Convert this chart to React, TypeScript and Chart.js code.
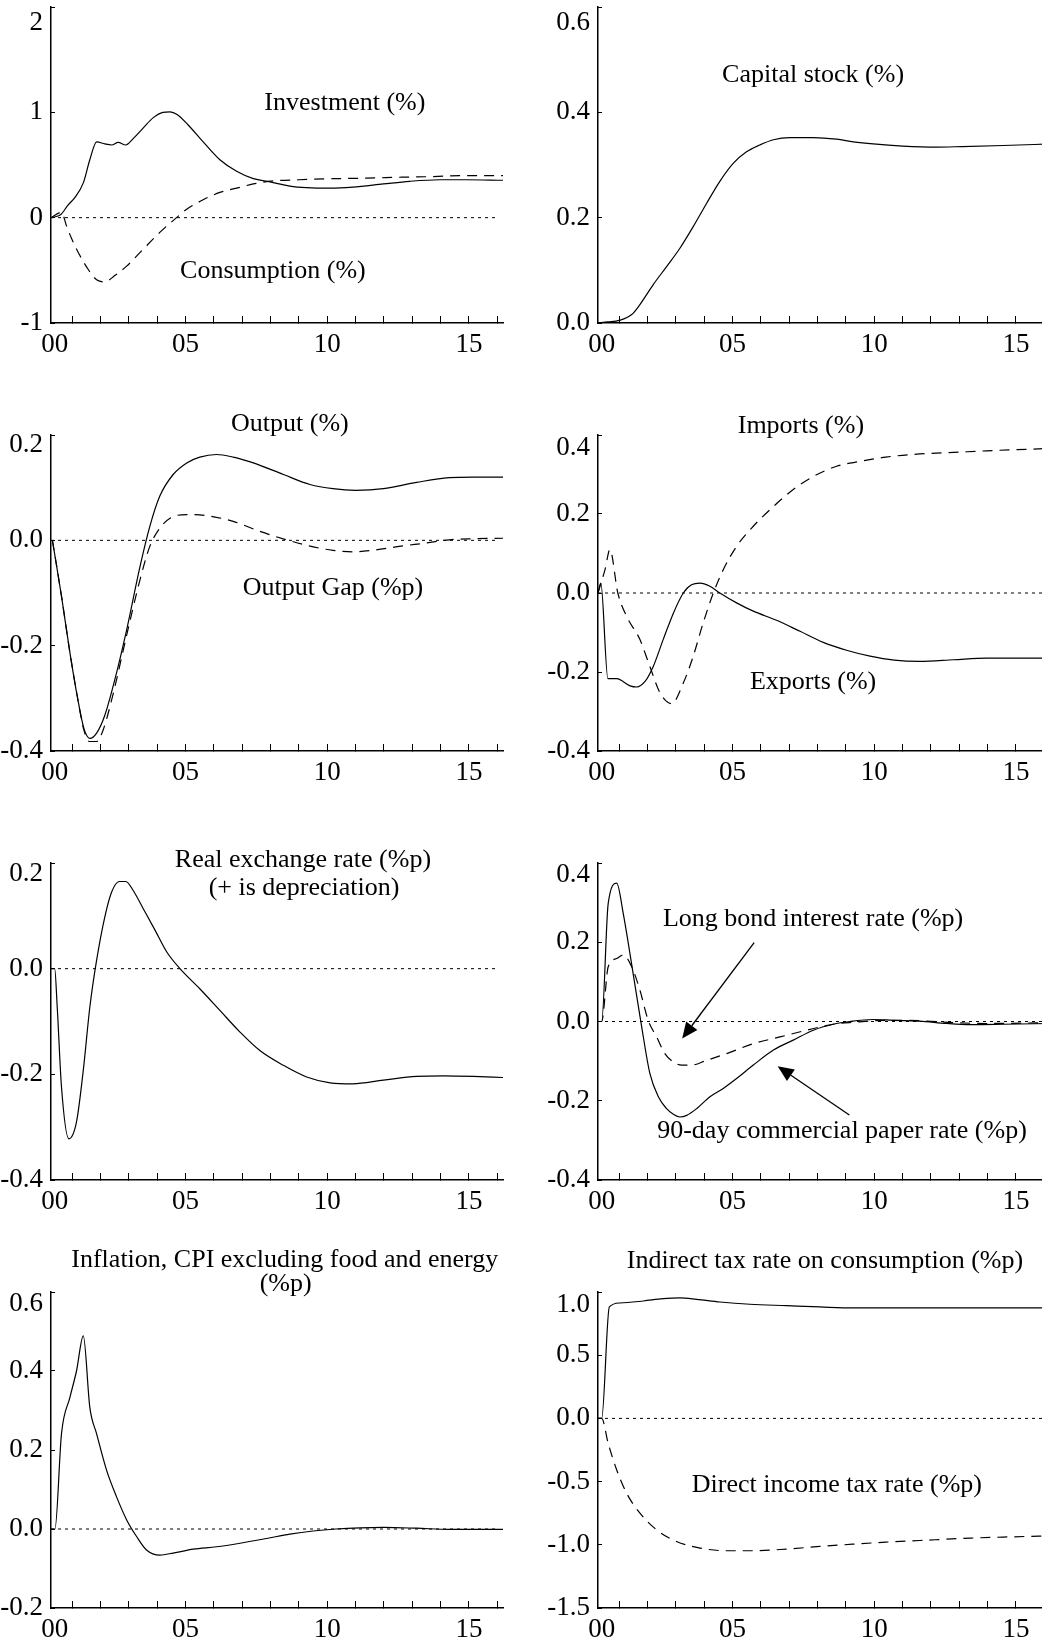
import React, { useEffect, useRef } from "react";
import { Chart, registerables } from "chart.js";

Chart.register(...registerables);

const FONT = "'Liberation Serif', 'Times New Roman', serif";
Chart.defaults.font.family = FONT;
Chart.defaults.color = "#000";

// ---------- x axis (years since 2000) ----------
const xTickYears = [0.38, 1, 2, 3, 4, 5, 6, 7, 8, 9, 10, 11, 12, 13, 14, 15, 16];
const xTickLabels = ["00", "", "", "", "", "05", "", "", "", "", "10", "", "", "", "", "15", ""];

// ---------- series: [year, value] ----------
const investment = [[0.25,0],[0.6,0.03],[0.85,0.12],[1.09,0.19],[1.39,0.33],[1.62,0.55],[1.86,0.72],[2.15,0.7],[2.39,0.69],[2.62,0.715],[2.89,0.69],[3.15,0.75],[3.5,0.85],[3.86,0.95],[4.2,1.0],[4.45,1.005],[4.7,0.98],[5.09,0.88],[5.62,0.72],[6.21,0.55],[6.8,0.44],[7.39,0.37],[7.98,0.34],[8.68,0.3],[9.27,0.285],[10.1,0.28],[10.9,0.29],[11.98,0.32],[12.9,0.345],[13.98,0.36],[14.9,0.36],[16.2,0.355]];
const consumption = [[0.25,0],[0.62,0.05],[0.8,-0.08],[0.98,-0.2],[1.27,-0.36],[1.56,-0.49],[1.86,-0.59],[2.15,-0.61],[2.5,-0.55],[2.92,-0.46],[3.5,-0.3],[4.09,-0.14],[4.68,0.0],[5.04,0.08],[5.62,0.17],[6.21,0.24],[6.8,0.28],[7.39,0.32],[7.98,0.346],[9.0,0.36],[10.2,0.37],[11.4,0.375],[12.6,0.384],[13.7,0.39],[14.9,0.4],[16.2,0.4]];
const capitalStock = [[0.25,0],[0.6,0.002],[1.0,0.005],[1.44,0.016],[1.73,0.035],[2.2,0.073],[2.67,0.107],[3.14,0.142],[3.61,0.183],[4.08,0.227],[4.55,0.269],[5.02,0.303],[5.49,0.325],[5.96,0.338],[6.44,0.348],[7.02,0.352],[7.85,0.352],[8.67,0.349],[9.26,0.344],[9.96,0.34],[11.0,0.336],[12.2,0.334],[13.1,0.335],[14.55,0.337],[16.2,0.34]];
const output = [[0.3,0],[0.62,-0.106],[0.92,-0.214],[1.18,-0.297],[1.41,-0.357],[1.62,-0.376],[1.86,-0.366],[2.15,-0.332],[2.5,-0.265],[2.92,-0.17],[3.39,-0.05],[3.74,0.027],[4.09,0.084],[4.56,0.125],[5.04,0.147],[5.5,0.158],[6.09,0.163],[6.68,0.158],[7.39,0.147],[8.45,0.125],[9.39,0.106],[10.2,0.098],[11.0,0.095],[11.98,0.098],[13.15,0.11],[14.3,0.119],[15.15,0.12],[16.2,0.12]];
const outputGap = [[0.3,0],[0.62,-0.106],[0.92,-0.214],[1.18,-0.297],[1.41,-0.36],[1.6,-0.382],[1.86,-0.382],[2.09,-0.36],[2.45,-0.29],[2.92,-0.18],[3.39,-0.075],[3.74,-0.011],[4.09,0.023],[4.45,0.042],[5.04,0.049],[5.74,0.047],[6.68,0.036],[7.62,0.017],[8.56,0.001],[9.39,-0.011],[10.2,-0.019],[10.9,-0.022],[11.6,-0.019],[12.6,-0.011],[13.5,-0.005],[14.3,0.001],[15.15,0.003],[16.2,0.004]];
const exportsS = [[0.25,0],[0.35,0.025],[0.6,-0.217],[0.91,-0.217],[1.38,-0.235],[1.61,-0.238],[1.91,-0.224],[2.2,-0.186],[2.55,-0.118],[2.91,-0.051],[3.26,0],[3.55,0.021],[3.85,0.025],[4.2,0.017],[4.55,0],[5.14,-0.025],[5.73,-0.046],[6.55,-0.069],[7.38,-0.097],[8.2,-0.125],[9.02,-0.145],[9.85,-0.16],[10.7,-0.17],[11.6,-0.173],[12.8,-0.169],[13.96,-0.165],[16.2,-0.165]];
const importsS = [[0.25,0],[0.5,0.06],[0.67,0.11],[0.95,0],[1.26,-0.059],[1.73,-0.118],[2.08,-0.186],[2.44,-0.253],[2.85,-0.28],[3.26,-0.228],[3.61,-0.16],[3.96,-0.076],[4.32,0],[4.67,0.059],[5.14,0.118],[5.73,0.169],[6.44,0.219],[7.14,0.262],[7.85,0.295],[8.67,0.321],[9.49,0.333],[10.4,0.344],[11.6,0.352],[12.8,0.356],[13.96,0.36],[16.2,0.366]];
const realExchangeRate = [[0.25,0],[0.38,0],[0.47,-0.073],[0.62,-0.224],[0.88,-0.322],[1.15,-0.29],[1.39,-0.192],[1.62,-0.073],[1.86,0.016],[2.15,0.098],[2.39,0.145],[2.66,0.165],[2.89,0.165],[3.15,0.148],[3.5,0.114],[3.92,0.073],[4.33,0.032],[4.8,0],[5.5,-0.038],[6.21,-0.079],[6.92,-0.12],[7.62,-0.155],[8.45,-0.183],[9.27,-0.205],[10.1,-0.216],[10.9,-0.218],[11.98,-0.211],[13.15,-0.204],[14.1,-0.203],[15.15,-0.204],[16.2,-0.206]];
const paperRate90 = [[0.25,0],[0.38,0],[0.61,0.298],[0.91,0.349],[1.14,0.273],[1.49,0.121],[1.79,-0.013],[2.08,-0.131],[2.38,-0.19],[2.67,-0.22],[2.91,-0.234],[3.14,-0.241],[3.38,-0.237],[3.73,-0.22],[4.2,-0.19],[4.67,-0.169],[5.14,-0.144],[5.73,-0.11],[6.44,-0.072],[7.14,-0.047],[7.85,-0.022],[8.55,-0.007],[9.14,0],[9.96,0.005],[10.67,0.003],[11.6,0.001],[12.55,-0.005],[13.4,-0.008],[14.55,-0.007],[16.2,-0.005]];
const longBondRate = [[0.25,0],[0.38,0],[0.61,0.138],[0.91,0.159],[1.14,0.168],[1.44,0.138],[1.73,0.079],[2.02,0.003],[2.32,-0.039],[2.61,-0.081],[2.91,-0.102],[3.2,-0.11],[3.55,-0.11],[4.08,-0.098],[4.79,-0.081],[5.73,-0.056],[6.67,-0.039],[7.61,-0.022],[8.55,-0.007],[9.26,-0.002],[10.4,0.003],[11.6,0.002],[12.8,-0.003],[13.96,-0.005],[16.2,-0.003]];
const inflation = [[0.25,0],[0.39,0],[0.62,0.241],[0.92,0.334],[1.15,0.4],[1.39,0.489],[1.62,0.308],[1.86,0.241],[2.21,0.149],[2.56,0.082],[2.92,0.023],[3.27,-0.019],[3.62,-0.053],[4.09,-0.066],[4.56,-0.061],[5.27,-0.051],[6.09,-0.045],[6.92,-0.036],[7.86,-0.024],[8.68,-0.013],[9.5,-0.005],[10.3,0],[11.15,0.003],[11.98,0.004],[13.15,0.002],[14.3,-0.001],[16.2,-0.001]];
const indirectTax = [[0.25,0],[0.38,0],[0.65,0.882],[1.02,0.913],[1.85,0.929],[2.55,0.947],[3.14,0.953],[3.73,0.942],[4.55,0.921],[5.61,0.903],[6.9,0.892],[8.08,0.882],[9.26,0.874],[16.2,0.874]];
const directTax = [[0.25,0],[0.38,0],[0.61,-0.197],[0.91,-0.408],[1.26,-0.592],[1.73,-0.75],[2.32,-0.882],[3.02,-0.974],[3.85,-1.026],[4.79,-1.047],[5.73,-1.047],[6.9,-1.034],[8.08,-1.013],[9.26,-0.995],[10.4,-0.979],[11.6,-0.966],[13.4,-0.947],[14.55,-0.939],[16.2,-0.929]];

// ---------- y tick values / labels ----------
const yTicksInv = [-1, 0, 1, 2];
const yLabelsInv = ["-1", "0", "1", "2"];
const yTicksCap = [0, 0.2, 0.4, 0.6];
const yLabelsCap = ["0.0", "0.2", "0.4", "0.6"];
const yTicksOut = [-0.4, -0.2, 0, 0.2];
const yLabelsOut = ["-0.4", "-0.2", "0.0", "0.2"];
const yTicksTrade = [-0.4, -0.2, 0, 0.2, 0.4];
const yLabelsTrade = ["-0.4", "-0.2", "0.0", "0.2", "0.4"];
const yTicksInfl = [-0.2, 0, 0.2, 0.4, 0.6];
const yLabelsInfl = ["-0.2", "0.0", "0.2", "0.4", "0.6"];
const yTicksTax = [-1.5, -1, -0.5, 0, 0.5, 1];
const yLabelsTax = ["-1.5", "-1.0", "-0.5", "0.0", "0.5", "1.0"];

// ---------- layout ----------
const X_MIN = 0.25;
const X_MAX = 16.2;
const PAD_T = 60;
const X_H = 50;
const TICK_FONT = 27;
const rows = [
  { top: 7, bottom: 323 },
  { top: 435, bottom: 751 },
  { top: 863, bottom: 1180 },
  { top: 1292, bottom: 1608 },
];
const cols = [
  { left: 0, width: 520, areaLeft: 51, areaRight: 503 },
  { left: 520, width: 540, areaLeft: 78, areaRight: 530 },
];

type Series = { data: number[][]; dashed?: boolean };
type Txt = { x: number; y: number; text: string };
type Arrow = { from: [number, number]; to: [number, number] };
type Panel = {
  row: number;
  col: number;
  yTicks: number[];
  yLabels: string[];
  topShift: number;
  series: Series[];
  texts: Txt[];
  arrows?: Arrow[];
};

const panels: Panel[] = [
  {
    row: 0, col: 0, yTicks: yTicksInv, yLabels: yLabelsInv, topShift: 15.5,
    series: [{ data: investment }, { data: consumption, dashed: true }],
    texts: [
      { x: 10.62, y: 1.088, text: "Investment (%)" },
      { x: 8.08, y: -0.507, text: "Consumption (%)" },
    ],
  },
  {
    row: 0, col: 1, yTicks: yTicksCap, yLabels: yLabelsCap, topShift: 16,
    series: [{ data: capitalStock }],
    texts: [{ x: 7.84, y: 0.471, text: "Capital stock (%)" }],
  },
  {
    row: 1, col: 0, yTicks: yTicksOut, yLabels: yLabelsOut, topShift: 10,
    series: [{ data: output }, { data: outputGap, dashed: true }],
    texts: [
      { x: 8.68, y: 0.22, text: "Output (%)" },
      { x: 10.2, y: -0.09, text: "Output Gap (%p)" },
    ],
  },
  {
    row: 1, col: 1, yTicks: yTicksTrade, yLabels: yLabelsTrade, topShift: 13,
    series: [{ data: exportsS }, { data: importsS, dashed: true }],
    texts: [
      { x: 7.41, y: 0.4235, text: "Imports (%)" },
      { x: 7.84, y: -0.227, text: "Exports (%)" },
    ],
  },
  {
    row: 2, col: 0, yTicks: yTicksOut, yLabels: yLabelsOut, topShift: 10.5,
    series: [{ data: realExchangeRate }],
    texts: [
      { x: 9.14, y: 0.205, text: "Real exchange rate (%p)" },
      { x: 9.18, y: 0.152, text: "(+ is depreciation)" },
    ],
  },
  {
    row: 2, col: 1, yTicks: yTicksTrade, yLabels: yLabelsTrade, topShift: 12,
    series: [{ data: paperRate90 }, { data: longBondRate, dashed: true }],
    texts: [
      { x: 7.84, y: 0.258, text: "Long bond interest rate (%p)" },
      { x: 8.86, y: -0.277, text: "90-day commercial paper rate (%p)" },
    ],
    arrows: [
      { from: [5.76, 0.199], to: [3.22, -0.043] },
      { from: [9.12, -0.236], to: [6.59, -0.113] },
    ],
  },
  {
    row: 3, col: 0, yTicks: yTicksInfl, yLabels: yLabelsInfl, topShift: 12,
    series: [{ data: inflation }],
    texts: [
      { x: 8.5, y: 0.681, text: "Inflation, CPI excluding food and energy" },
      { x: 8.53, y: 0.62, text: "(%p)" },
    ],
  },
  {
    row: 3, col: 1, yTicks: yTicksTax, yLabels: yLabelsTax, topShift: 12.5,
    series: [{ data: indirectTax }, { data: directTax, dashed: true }],
    texts: [
      { x: 8.26, y: 1.244, text: "Indirect tax rate on consumption (%p)" },
      { x: 8.68, y: -0.528, text: "Direct income tax rate (%p)" },
    ],
  },
];

function PanelChart({ p }: { p: Panel }) {
  const ref = useRef<HTMLCanvasElement | null>(null);
  const row = rows[p.row];
  const col = cols[p.col];
  const height = row.bottom - row.top + PAD_T + X_H;
  const top = row.top - PAD_T;

  useEffect(() => {
    const canvas = ref.current;
    if (!canvas) return;
    const yMin = p.yTicks[0];
    const yMax = p.yTicks[p.yTicks.length - 1];
    const last = p.yTicks.length - 1;

    const annot = {
      id: "annot" + p.row + p.col,
      afterDatasetsDraw(chart: any) {
        const { ctx } = chart;
        const xs = chart.scales.x;
        const ys = chart.scales.y;
        ctx.save();
        ctx.fillStyle = "#000";
        ctx.strokeStyle = "#000";
        ctx.font = `26px ${FONT}`;
        ctx.textAlign = "center";
        ctx.textBaseline = "middle";
        for (const t of p.texts) {
          ctx.fillText(t.text, xs.getPixelForValue(t.x), ys.getPixelForValue(t.y));
        }
        for (const a of p.arrows || []) {
          const x1 = xs.getPixelForValue(a.from[0]);
          const y1 = ys.getPixelForValue(a.from[1]);
          const x2 = xs.getPixelForValue(a.to[0]);
          const y2 = ys.getPixelForValue(a.to[1]);
          const ang = Math.atan2(y2 - y1, x2 - x1);
          const hl = 16;
          const hw = 7;
          const bx = x2 - hl * Math.cos(ang);
          const by = y2 - hl * Math.sin(ang);
          ctx.lineWidth = 1.3;
          ctx.beginPath();
          ctx.moveTo(x1, y1);
          ctx.lineTo(bx, by);
          ctx.stroke();
          ctx.beginPath();
          ctx.moveTo(x2, y2);
          ctx.lineTo(bx + hw * Math.sin(ang), by - hw * Math.cos(ang));
          ctx.lineTo(bx - hw * Math.sin(ang), by + hw * Math.cos(ang));
          ctx.closePath();
          ctx.fill();
        }
        ctx.restore();
      },
    };

    const datasets: any[] = [
      {
        data: [{ x: X_MIN, y: 0 }, { x: 16, y: 0 }],
        borderColor: "#000",
        borderWidth: 1,
        borderDash: [3, 4],
        pointRadius: 0,
        tension: 0,
      },
      ...p.series.map((s) => ({
        data: s.data.map(([x, y]) => ({ x, y })),
        borderColor: "#000",
        borderWidth: 1.2,
        borderDash: s.dashed ? [10, 7] : [],
        pointRadius: 0,
        cubicInterpolationMode: "monotone",
      })),
    ];

    const chart = new Chart(canvas, {
      type: "line",
      data: { datasets },
      plugins: [annot],
      options: {
        animation: false,
        responsive: false,
        devicePixelRatio: 1,
        layout: { padding: { top: PAD_T, left: 0, right: col.width - col.areaRight, bottom: 0 } },
        plugins: { legend: { display: false }, tooltip: { enabled: false } },
        scales: {
          x: {
            type: "linear",
            min: X_MIN,
            max: X_MAX,
            afterBuildTicks: (s: any) => {
              s.ticks = xTickYears.map((v) => ({ value: v }));
            },
            afterFit: (s: any) => {
              s.height = X_H;
            },
            grid: {
              drawOnChartArea: false,
              drawTicks: true,
              tickLength: -7,
              tickWidth: 1,
              tickColor: (c: any) => (c.tick && c.tick.value < 1 ? "rgba(0,0,0,0)" : "#000"),
            },
            border: { display: true, color: "#000", width: 1.5 },
            ticks: {
              autoSkip: false,
              maxRotation: 0,
              minRotation: 0,
              padding: 12.5,
              color: "#000",
              font: { size: TICK_FONT, family: FONT, lineHeight: 1.2 },
              callback: (_v: any, i: number) => xTickLabels[i],
            },
          },
          y: {
            type: "linear",
            min: yMin,
            max: yMax,
            afterBuildTicks: (s: any) => {
              s.ticks = p.yTicks.map((v) => ({ value: v }));
            },
            afterFit: (s: any) => {
              s.width = col.areaLeft;
            },
            grid: {
              drawOnChartArea: false,
              drawTicks: true,
              tickLength: -4,
              tickWidth: 1,
              tickColor: "#000",
            },
            border: { display: true, color: "#000", width: 1.5 },
            ticks: {
              autoSkip: false,
              padding: 12,
              color: "#000",
              font: { size: TICK_FONT, family: FONT, lineHeight: `${2 * p.topShift}px` },
              callback: (_v: any, i: number) => (i === last ? ["", p.yLabels[i]] : p.yLabels[i]),
            },
          },
        },
      } as any,
    });
    return () => chart.destroy();
  }, []);

  return (
    <canvas
      ref={ref}
      width={col.width}
      height={height}
      style={{ position: "absolute", left: col.left, top, width: col.width, height }}
    />
  );
}

export default function App() {
  return (
    <div
      style={{
        position: "absolute",
        left: 0,
        top: 0,
        width: 1042,
        height: 1639,
        overflow: "hidden",
        background: "#fff",
      }}
    >
      {panels.map((p, i) => (
        <PanelChart key={i} p={p} />
      ))}
    </div>
  );
}
